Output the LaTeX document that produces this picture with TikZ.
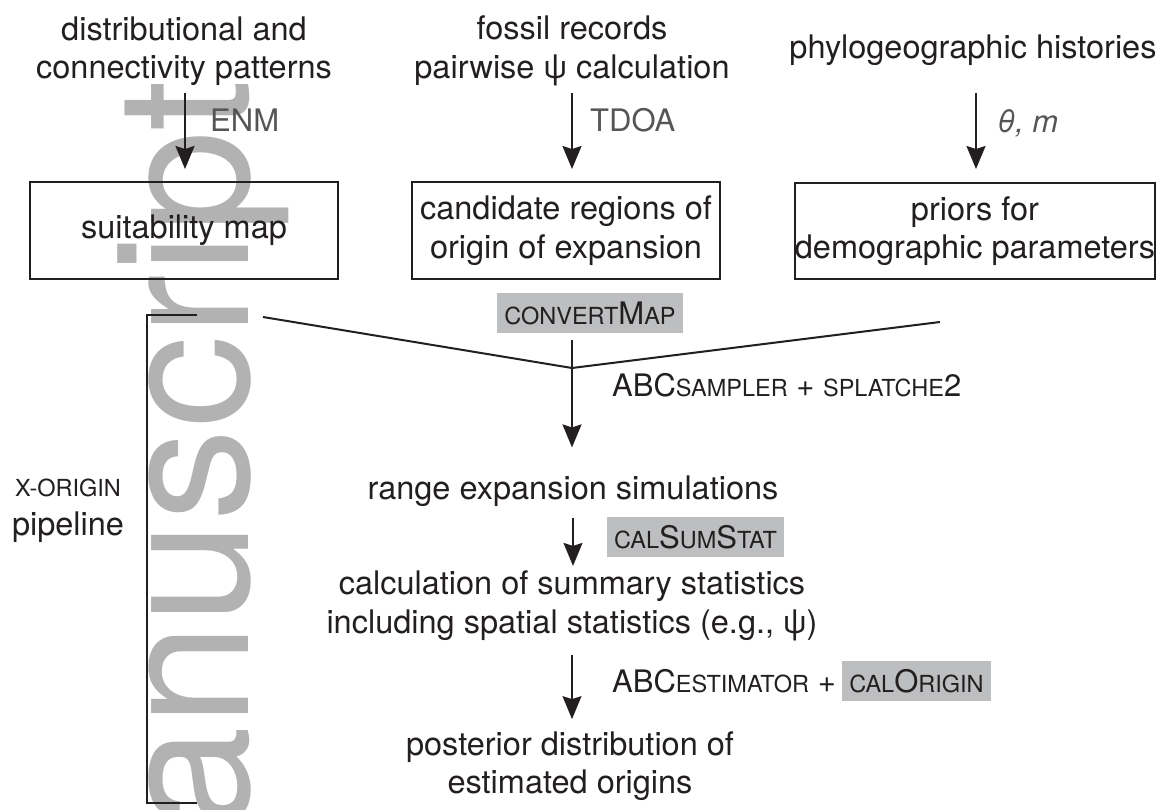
\documentclass[tikz,border=0pt]{standalone}
\usepackage{fontspec}
\setmainfont{TeX Gyre Heros}
\newfontfamily\wmfont{TeX Gyre Heros}
\usetikzlibrary{arrows.meta}
\definecolor{ink}{RGB}{35,31,32}
\definecolor{lblgray}{RGB}{85,85,85}
\definecolor{hl}{RGB}{188,190,192}
\definecolor{wm}{RGB}{178,178,178}
\newcommand\smc[1]{{\fontsize{23.5}{28}\selectfont #1}}
\newcommand\mainsz{\fontsize{32.5}{38.5}\selectfont}
\newcommand\lblsz{\fontsize{31}{38}\selectfont}
\begin{document}
\begin{tikzpicture}[x=1pt,y=-1pt,
  txt/.style={font=\mainsz, text=ink, align=center, inner sep=0pt},
  lbl/.style={font=\lblsz, text=ink, inner sep=0pt, anchor=base west},
  glbl/.style={lbl, text=lblgray},
  srcbox/.style={draw=ink, line width=2pt, font=\mainsz, text=ink, align=center, inner sep=0pt},
  hlbox/.style={fill=hl, font=\lblsz, text=ink, inner xsep=7pt, inner ysep=0pt, minimum height=40pt},
  arr/.style={draw=ink, line width=2pt, -{Stealth[length=23pt,width=19pt,inset=3pt]}},
  thinarr/.style={draw=ink, line width=1.5pt, -{Stealth[length=23pt,width=19pt,inset=3pt]}},
  ln/.style={draw=ink, line width=2pt}]
\useasboundingbox (0,0) rectangle (1162,809);
% watermark
\node[text=wm, font=\wmfont\fontsize{185}{200}\selectfont, rotate=90, anchor=base east, inner sep=0pt] (wmk) at (248,80) {anuscript};

% sources
\node[txt] (d1) at (184,51) {distributional and\\connectivity patterns};
\node[txt] (f1) at (572,51) {fossil records\\pairwise ψ calculation};
\node[txt] (p1) at (973,50) {phylogeographic histories};

% boxes
\node[srcbox, minimum width=308pt, minimum height=97pt] (b1) at (184,230.5) {suitability map};
\node[srcbox, minimum width=308pt, minimum height=97pt] (b2) at (566,230.5) {candidate regions of\\origin of expansion};
\node[srcbox, minimum width=360pt, minimum height=96pt] (b3) at (975,231) {priors for\\demographic parameters};

% top arrows
\draw[arr, shorten <=7pt, shorten >=12pt] (d1.south -| 185,0) -- (b1.north -| 185,0);
\draw[arr, shorten <=7pt, shorten >=12pt] (f1.south) -- (f1.south |- b2.north);
\draw[arr, shorten <=27pt, shorten >=13pt] (p1.south -| 976,0) -- (b3.north -| 976,0);
\node[glbl] (enm) at (210,131) {ENM};
\node[glbl] (tdoa) at (590,131) {TDOA};
\node[glbl] (thm) at (997,132) {\itshape θ, m};

% merge
\node[hlbox] (cm) at (590,313) {\smc{CONVERT}M\smc{AP}};
\coordinate (vl) at (263,317);
\coordinate (vv) at (572,368);
\coordinate (vr) at (940,322);
\draw[ln] (vl) -- (vv) -- (vr);

\node[txt] (res) at (573,491) {range expansion simulations};
\draw[arr, shorten <=7pt, shorten >=28pt] (vv |- cm.south) -- (vv |- res.north);
\node[lbl] (abcs) at (612,396) {ABC\smc{SAMPLER} + \smc{SPLATCHE}2};

% calSumStat
\node[txt] (css) at (572,606) {calculation of summary statistics\\including spatial statistics (e.g., ψ)};
\draw[thinarr, shorten <=11pt, shorten >=5pt] (res.south) -- (res.south |- css.north);
\node[hlbox, anchor=west] (cst) at (607,537) {\smc{CAL}S\smc{UM}S\smc{TAT}};

% estimator
\node[txt] (post) at (570,766) {posterior distribution of\\estimated origins};
\draw[thinarr, shorten <=14pt, shorten >=12pt] (css.south -| vv) -- (post.north -| vv);
\node[lbl] (abce) at (612,692) {ABC\smc{ESTIMATOR} +};
\node[hlbox, anchor=base west, xshift=6pt] (co) at (abce.base east) {\smc{CAL}O\smc{RIGIN}};

% bracket
\coordinate (bt) at (197,315);
\coordinate (bb) at (197,803);
\draw[ln] (bt) -| (147,803) -- (bb);
\node[txt] (xo) at (68,511) {\smc{X-ORIGIN}\\pipeline};
\end{tikzpicture}
\end{document}
